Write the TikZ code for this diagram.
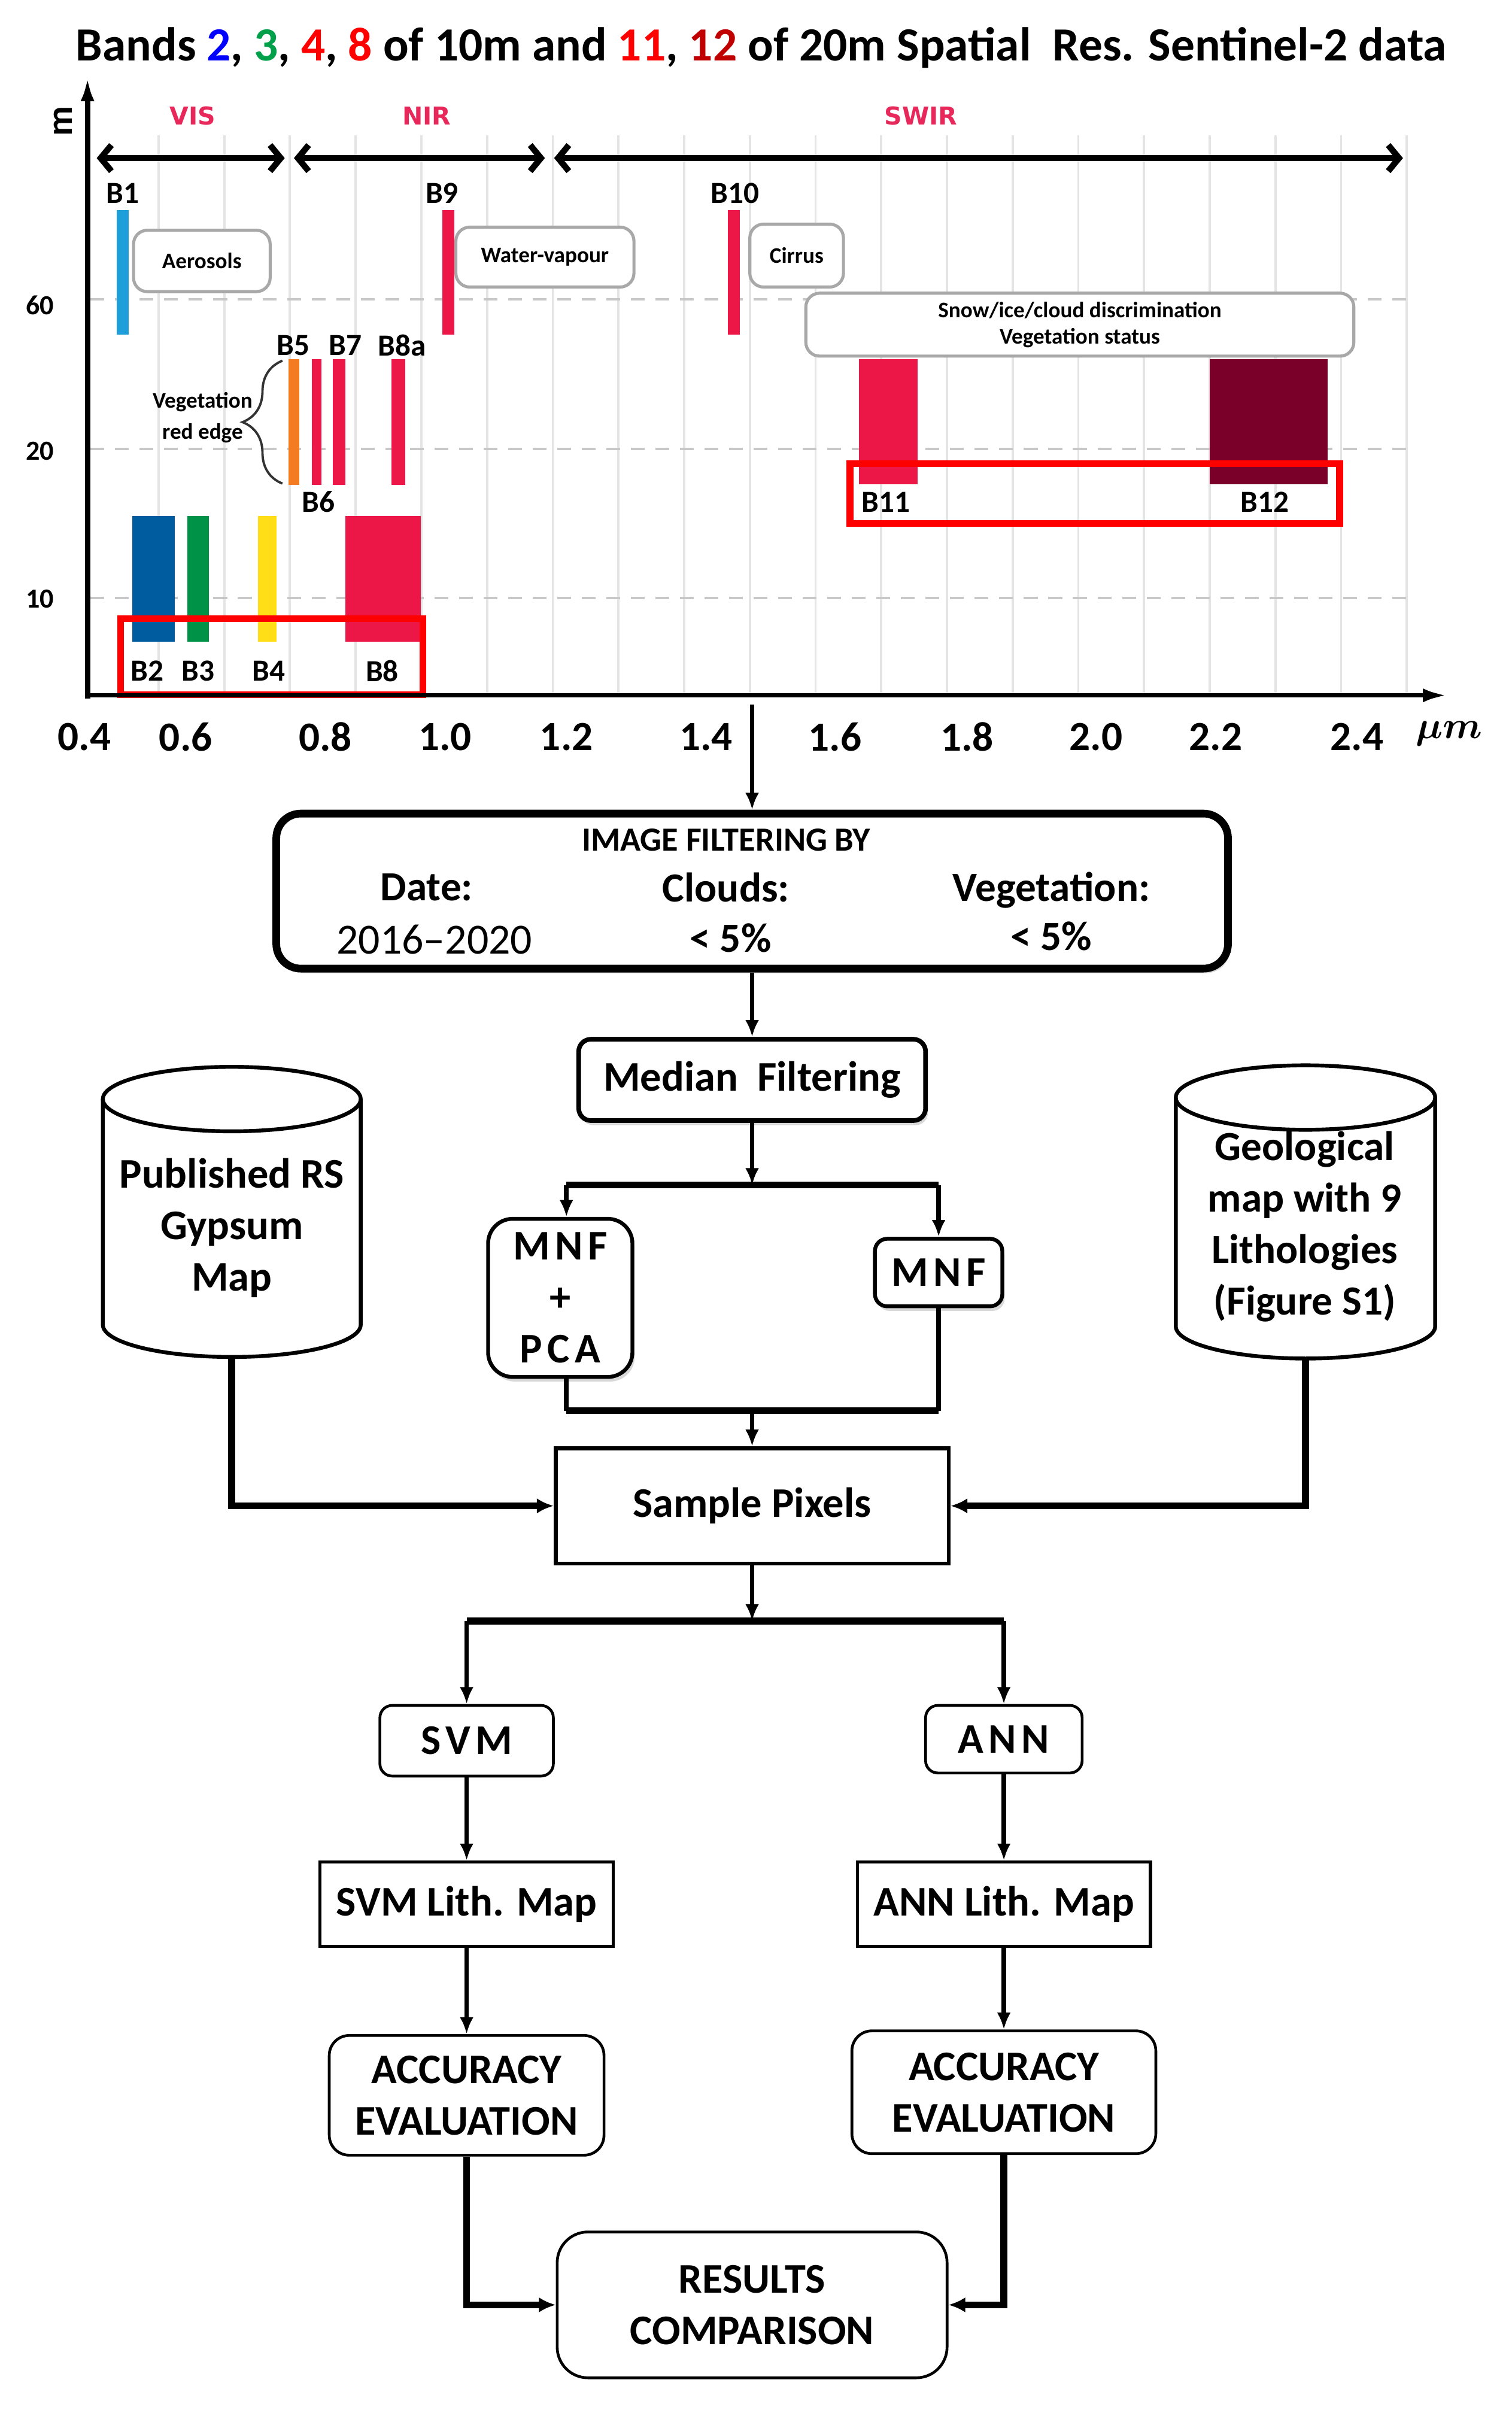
\documentclass[tikz,border=0pt]{standalone}
\usepackage{fontspec}
\setmainfont{Carlito}
\newfontfamily\djv{DejaVu Sans}
\usetikzlibrary{arrows.meta,decorations.pathreplacing,shadows,calc}
\definecolor{cBa}{HTML}{1E9FDA}
\definecolor{cBb}{HTML}{005C9F}
\definecolor{cBc}{HTML}{009246}
\definecolor{cBd}{HTML}{FFDE17}
\definecolor{cBe}{HTML}{F47C20}
\definecolor{crim}{HTML}{ED1747}
\definecolor{maroonc}{HTML}{7B0029}
\definecolor{regc}{HTML}{E8285A}
\definecolor{tblue}{HTML}{0000FF}
\definecolor{tgreen}{HTML}{00A04B}
\definecolor{tred}{HTML}{FF0000}
\definecolor{tdred}{HTML}{C00000}
\definecolor{gridc}{HTML}{E4E4E4}
\definecolor{dashc}{HTML}{C8C8C8}
\definecolor{lboxc}{HTML}{A8A8A8}
\begin{document}
\begin{tikzpicture}[x=1pt,y=-1pt,
  arr/.style={line width=3pt,-{Latex[length=11pt,width=9pt]}},
  bus/.style={line width=4.5pt},
  busarr/.style={line width=4.5pt,-{Latex[length=11pt,width=10pt]}},
  fbox/.style={draw,fill=white,align=center,inner sep=0pt,font=\fontsize{27.5}{33.5}\selectfont\bfseries},
  lbox/.style={draw=lboxc,line width=2pt,rounded corners=9pt,align=center,inner sep=0pt,fill=white,font=\fontsize{14.5}{17}\selectfont\bfseries},
  blab/.style={inner sep=0pt,font=\fontsize{20}{22}\selectfont\bfseries},
  xtl/.style={inner sep=0pt,font=\fontsize{27}{30}\selectfont\bfseries},
  ytl/.style={inner sep=0pt,font=\fontsize{18}{20}\selectfont\bfseries},
  regtxt/.style={inner sep=0pt,text=regc,font=\djv\fontsize{16}{18}\selectfont\bfseries},
  regarr/.style={line width=4pt,{Straight Barb[length=7pt,width=17pt]}-{Straight Barb[length=7pt,width=17pt]}},
  spaced/.style={font=\fontsize{27.5}{33.5}\selectfont\bfseries\addfontfeatures{LetterSpace=12}},
  shad/.style={drop shadow={opacity=0.3,shadow xshift=1.5pt,shadow yshift=-3pt}},
  plain/.style={inner sep=0pt,align=center},
  cylst/.style={line width=2.5pt}
]
\fill[white] (0,0) rectangle (985,1570);
\useasboundingbox (0,0) rectangle (985,1570);

% title
\node[plain,font=\fontsize{31}{34}\selectfont\bfseries] (title) at (496,31) {Bands \textcolor{tblue}{2}, \textcolor{tgreen}{3}, \textcolor{tred}{4}, \textcolor{tred}{8} of 10m and \textcolor{tred}{11}, \textcolor{tdred}{12} of 20m Spatial\ \ Res. Sentinel-2 data};

% grid
\foreach \k in {1,...,20} \draw[gridc,line width=1.5pt] ({60.5+42.8*\k},88) -- ({60.5+42.8*\k},451);
\foreach \yy in {195,292.5,389.5} \draw[dashc,line width=1.5pt,dash pattern=on 9pt off 7pt] (59,\yy) -- (916,\yy);

% bars
\fill[cBa] (76,137) rectangle (84,218);
\fill[crim] (288,137) rectangle (296,218);
\fill[crim] (474,137) rectangle (482,218);
\fill[cBe] (188,234) rectangle (195,316);
\fill[crim] (203,234) rectangle (209.5,316);
\fill[crim] (217,234) rectangle (225,316);
\fill[crim] (255,234) rectangle (264,316);
\fill[cBb] (86,336) rectangle (114,418);
\fill[cBc] (122,336) rectangle (136,418);
\fill[cBd] (168,336) rectangle (180,418);
\fill[crim] (225,336) rectangle (274,418);
\fill[crim] (559.5,234) rectangle (598,315.5);
\fill[maroonc] (788,234) rectangle (865,315.5);

% band labels
\node[blab] (lb1) at (80,126) {B1};
\node[blab] (lb9) at (288,126) {B9};
\node[blab] (lb10) at (479,126) {B10};
\node[blab] (lb5) at (191,225) {B5};
\node[blab] (lb7) at (225,225) {B7};
\node[blab] (lb8a) at (262,225) {B8a};
\node[blab] (lb6) at (207.5,327) {B6};
\node[blab] (lb2) at (96,437) {B2};
\node[blab] (lb3) at (129,437) {B3};
\node[blab] (lb4) at (175,437) {B4};
\node[blab] (lb8) at (249,437) {B8};
\node[blab] (lb11) at (577,327) {B11};
\node[blab] (lb12) at (824,327) {B12};

% info boxes
\node[lbox,minimum width=89pt,minimum height=40pt] (aer) at (131.5,170) {Aerosols};
\node[lbox,minimum width=116pt,minimum height=39pt] (wv) at (355,167.5) {Water-vapour};
\node[lbox,minimum width=61pt,minimum height=41pt] (cir) at (519,166.5) {Cirrus};
\node[lbox,minimum width=357pt,minimum height=41pt] (snow) at (703.5,211.5) {Snow/ice/cloud discrimination\\Vegetation status};
\node[plain,font=\fontsize{14.5}{20}\selectfont\bfseries] (veg) at (132,272) {Vegetation\\red edge};
\draw[decorate,decoration={brace,amplitude=26pt,aspect=0.5},line width=1.5pt,black!80] (184,315) -- (184,235);

% red frames
\draw[tred,line width=4.5pt] (78.5,403) rectangle (275.5,452.5);
\draw[tred,line width=4.5pt] (553.7,302) rectangle (872.7,341);

% axes
\draw[line width=3.5pt,-{Latex[length=16pt,width=9pt]}] (57,455) -- (57,50);
\draw[line width=3pt,-{Latex[length=16pt,width=9pt]}] (55.5,453) -- (943,453);
\node[plain,rotate=90,font=\fontsize{24}{26}\selectfont\bfseries] (mlab) at (41,79) {m};
\node[ytl] at (26,199) {60};
\node[ytl] at (26,294) {20};
\node[ytl] at (26,390) {10};
\foreach \xv/\tx in {55/0.4,121/0.6,212/0.8,290/1.0,369/1.2,460/1.4,544/1.6,630/1.8,714/2.0,792/2.2,884/2.4}
  \node[xtl] at (\xv,480) {\tx};
\node[plain,font=\fontsize{36}{38}\selectfont\boldmath] (um) at (944,478) {$\mu m$};

% regions
\draw[regarr] (63,103) -- (185.5,103);
\draw[regarr] (191.5,103) -- (355,103);
\draw[regarr] (361,103) -- (914,103);
\node[regtxt] at (125.6,75.5) {VIS};
\node[regtxt] at (278,75.5) {NIR};
\node[regtxt] at (600,75.5) {SWIR};

% ---------- flowchart ----------
\coordinate (drop) at (490,459);
\node[fbox,line width=5pt,rounded corners=16pt,minimum width=620pt,minimum height=101pt,shad] (filt) at (490,580.5) {};
\node[plain,font=\fontsize{22}{24}\selectfont\bfseries] at (473,547) {IMAGE FILTERING BY};
\node[plain,font=\fontsize{27}{30}\selectfont\bfseries] at (278,578) {Date:};
\node[plain,font=\fontsize{27}{30}\selectfont\bfseries] at (473,578) {Clouds:};
\node[plain,font=\fontsize{27}{30}\selectfont\bfseries] at (685,580) {Vegetation:};
\node[plain,font=\fontsize{28}{30}\selectfont] at (283,612) {2016–2020};
\node[plain,font=\fontsize{27}{30}\selectfont\bfseries] at (476,611) {< 5\%};
\node[plain,font=\fontsize{27}{30}\selectfont\bfseries] at (685,610) {< 5\%};
\draw[arr] (drop) -- (filt.north);

\node[fbox,line width=3pt,rounded corners=8pt,minimum width=226pt,minimum height=53pt,shad] (med) at (490,703.5) {Median\ \ Filtering};
\draw[arr] (filt.south) -- (med.north);

\node[fbox,line width=2.5pt,rounded corners=16pt,minimum width=94pt,minimum height=103pt,shad,spaced] (mnfpca) at (365,845.5) {MNF\\+\\PCA};
\node[fbox,line width=2.5pt,rounded corners=8pt,minimum width=83pt,minimum height=44pt,shad,spaced] (mnf) at (611.5,829) {MNF};

\coordinate (spa) at (490,772);
\coordinate (spL) at (369,772);
\coordinate (spR) at (611.5,772);
\draw[arr] (med.south) -- (spa);
\draw[bus] (spL) -- (spR);
\draw[arr] (spL) -- (spL |- mnfpca.north);
\draw[arr] (spR) -- (mnf.north);

\node[fbox,line width=2.5pt,minimum width=256pt,minimum height=75pt] (samp) at (490,981) {Sample Pixels};
\coordinate (mgL) at (369,919);
\coordinate (mgR) at (611.5,919);
\coordinate (mg) at (490,919);
\draw[line width=3pt] (spL |- mnfpca.south) -- (mgL);
\draw[line width=3pt] (mnf.south) -- (mgR);
\draw[bus] (mgL) -- (mgR);
\draw[arr] (mg) -- (samp.north);

% cylinders
\node[minimum width=168pt,minimum height=189pt,inner sep=0pt] (pub) at (151,789.5) {};
\draw[cylst] (151,716) ellipse [x radius=84pt,y radius=21pt];
\draw[cylst] (67,716) -- (67,863) arc[start angle=180,end angle=360,x radius=84pt,y radius=21pt] -- (235,716);
\node[plain,font=\fontsize{27.5}{33.5}\selectfont\bfseries] at (151,800) {Published RS\\Gypsum\\Map};

\node[minimum width=169pt,minimum height=191pt,inner sep=0pt] (geo) at (850.5,789.5) {};
\draw[cylst] (850.5,715) ellipse [x radius=84.5pt,y radius=21pt];
\draw[cylst] (766,715) -- (766,864) arc[start angle=180,end angle=360,x radius=84.5pt,y radius=21pt] -- (935,715);
\node[plain,font=\fontsize{27}{33.5}\selectfont\bfseries] at (850,799) {Geological\\map with 9\\Lithologies\\(Figure S1)};

\draw[busarr] (pub.south) |- (samp.west);
\draw[busarr] (geo.south) |- (samp.east);

% classifiers
\coordinate (spb) at (490,1056);
\coordinate (sbL) at (304,1056);
\coordinate (sbR) at (654,1056);
\node[fbox,line width=1.8pt,rounded corners=8pt,minimum width=113pt,minimum height=46pt,spaced] (svm) at (304,1134) {SVM};
\node[fbox,line width=1.8pt,rounded corners=8pt,minimum width=102pt,minimum height=44pt,spaced] (ann) at (654,1133) {ANN};
\draw[arr] (samp.south) -- (spb);
\draw[bus] (sbL) -- (sbR);
\draw[arr] (sbL) -- (svm.north);
\draw[arr] (sbR) -- (ann.north);

\node[fbox,line width=2pt,minimum width=191pt,minimum height=55pt] (svml) at (304,1240.5) {SVM Lith. Map};
\node[fbox,line width=2pt,minimum width=191pt,minimum height=55pt] (annl) at (654,1240.5) {ANN Lith. Map};
\draw[arr] (svm.south) -- (svml.north);
\draw[arr] (ann.south) -- (annl.north);

\node[fbox,line width=1.8pt,rounded corners=13pt,minimum width=179pt,minimum height=78pt] (accl) at (304,1365) {ACCURACY\\EVALUATION};
\node[fbox,line width=1.8pt,rounded corners=13pt,minimum width=198pt,minimum height=80pt] (accr) at (654,1363) {ACCURACY\\EVALUATION};
\draw[arr] (svml.south) -- (accl.north);
\draw[arr] (annl.south) -- (accr.north);

\node[fbox,line width=1.8pt,rounded corners=20pt,minimum width=254pt,minimum height=95pt] (res) at (490,1501.5) {RESULTS\\COMPARISON};
\draw[busarr] (accl.south) |- (res.west);
\draw[busarr] (accr.south) |- (res.east);
\end{tikzpicture}
\end{document}
